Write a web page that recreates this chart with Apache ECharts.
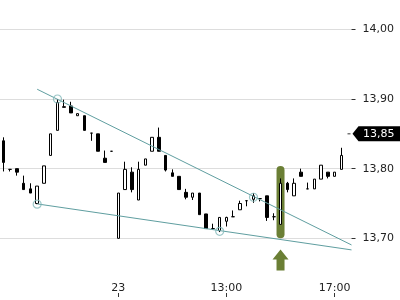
<!DOCTYPE html>
<html><head><meta charset="utf-8">
<script src="https://cdn.jsdelivr.net/npm/echarts@6/dist/echarts.min.js"></script>
<style>html,body{margin:0;padding:0;background:#fff}#c{width:400px;height:300px}</style>
</head><body><div id="c"></div>
<script>
const categories = [
 '22 13:15','22 13:30','22 13:45','22 14:00','22 14:15','22 14:30','22 14:45','22 15:00','22 15:15','22 15:30',
 '22 15:45','22 16:00','22 16:15','22 16:30','22 16:45','22 17:00','22 17:15',
 '23 09:00','23 09:15','23 09:30','23 09:45','23 10:00','23 10:15','23 10:30','23 10:45','23 11:00',
 '23 11:15','23 11:30','23 11:45','23 12:00','23 12:15','23 12:30','23 12:45','23 13:00','23 13:15',
 '23 13:30','23 13:45','23 14:00','23 14:15','23 14:30','23 14:45','23 15:00','23 15:15','23 15:30',
 '23 15:45','23 16:00','23 16:15','23 16:30','23 16:45','23 17:00','23 17:15','23 17:30'
];
const opens  = [13.840,13.799,13.800,13.779,13.771,13.750,13.779,13.819,13.855,13.888,
                13.890,13.876,13.876,13.851,13.850,13.815,13.825,
                13.700,13.770,13.795,13.755,13.805,13.825,13.845,13.819,13.794,
                13.789,13.766,13.759,13.765,13.735,13.714,13.711,13.7245,13.731,
                13.741,13.754,13.756,13.757,13.761,13.731,13.720,13.779,13.761,
                13.795,13.771,13.771,13.785,13.795,13.789,13.799];
const closes = [13.809,13.799,13.795,13.770,13.765,13.775,13.804,13.850,13.895,13.889,
                13.880,13.879,13.855,13.851,13.825,13.809,13.825,
                13.765,13.799,13.770,13.799,13.814,13.845,13.825,13.798,13.789,
                13.770,13.759,13.765,13.734,13.714,13.714,13.730,13.730,13.731,
                13.750,13.754,13.761,13.757,13.730,13.731,13.779,13.770,13.779,
                13.789,13.771,13.785,13.805,13.789,13.795,13.819];
const lows   = [13.796,13.796,13.790,13.770,13.765,13.749,13.779,13.819,13.855,13.888,
                13.880,13.876,13.855,13.840,13.825,13.809,13.825,
                13.700,13.770,13.766,13.755,13.805,13.825,13.825,13.796,13.789,
                13.770,13.756,13.755,13.734,13.714,13.714,13.709,13.717,13.731,
                13.741,13.746,13.751,13.753,13.725,13.726,13.720,13.766,13.761,
                13.789,13.771,13.771,13.785,13.786,13.789,13.799];
const highs  = [13.845,13.799,13.800,13.790,13.779,13.775,13.804,13.850,13.900,13.899,
                13.896,13.879,13.876,13.851,13.850,13.826,13.825,
                13.765,13.810,13.802,13.810,13.814,13.845,13.859,13.819,13.799,
                13.789,13.771,13.765,13.765,13.735,13.721,13.730,13.731,13.740,
                13.754,13.754,13.765,13.757,13.761,13.736,13.786,13.781,13.786,
                13.800,13.780,13.785,13.805,13.795,13.795,13.830];
const xTickIndex = [17, 33, 49];
const xTickLabels = ['23', '13:00', '17:00'];
const yMin = 13.6, yMax = 14.05, yStep = 0.1;
const upperTrend = [[5, 13.914], [51.5, 13.6905]];
const lowerTrend = [[5, 13.7494], [51.5, 13.6834]];
const trendAnchors = [[5, 13.749], [8, 13.900], [32, 13.710], [37, 13.759]];
const highlightBar = [[41, 13.804, 13.700]];
const signalArrow = [[41, 13.684]];
const lastPrice = 13.85;

const FONT = 'DejaVu Sans';
const TEAL = '#5f9ea0';
const OLIVE = '#6b7f35';
const GRID = '#dddddd';

const candleData = opens.map((o, i) => [o, closes[i], lows[i], highs[i]]);
const chart = echarts.init(document.getElementById('c'), null, {renderer: 'canvas'});
const tickSet = {};
xTickIndex.forEach((i, k) => tickSet[i] = xTickLabels[k]);

chart.setOption({
  animation: false,
  backgroundColor: '#fff',
  grid: {left: 0, right: 48.5, top: -5.5, bottom: -8, containLabel: false, outerBoundsMode: 'none'},
  xAxis: [{
    type: 'category', data: categories, boundaryGap: true, offset: -11,
    axisLine: {show: false, onZero: false},
    axisTick: {show: true, inside: true, length: 4, alignWithLabel: true,
      interval: (i) => tickSet[i] !== undefined, lineStyle: {color: '#333'}},
    axisLabel: {inside: true, margin: 3, fontFamily: FONT, fontSize: 11, color: '#222',
      interval: (i) => tickSet[i] !== undefined,
      formatter: (v, i) => tickSet[i] || ''},
    splitLine: {show: false}
  }, {
    type: 'value', min: -0.5, max: 51.5, show: false, axisLine: {onZero: false}
  }],
  yAxis: [{
    type: 'value', position: 'right', min: yMin, max: yMax, interval: yStep, scale: true,
    axisLine: {show: false, onZero: false},
    axisTick: {show: true, length: 4, lineStyle: {color: '#333'}},
    axisLabel: {margin: 11, fontFamily: FONT, fontSize: 11, color: '#222', showMaxLabel: false, showMinLabel: false,
      formatter: (v) => v.toFixed(2).replace('.', ',')},
    splitLine: {show: true, lineStyle: {color: GRID, width: 1}}
  }],
  series: [{
    type: 'custom', xAxisIndex: 0, yAxisIndex: 0, z: 1, silent: true,
    data: highlightBar,
    renderItem: (params, api) => {
      const p1 = api.coord([api.value(0), api.value(1)]);
      const p2 = api.coord([api.value(0), api.value(2)]);
      return {type: 'rect', shape: {x: p1[0] - 4, y: p1[1], width: 8, height: p2[1] - p1[1], r: 4},
        style: {fill: OLIVE}};
    }
  }, {
    type: 'candlestick', xAxisIndex: 0, yAxisIndex: 0, z: 2, barWidth: 3, silent: true,
    data: candleData,
    itemStyle: {color: '#fff', color0: '#000', borderColor: '#000', borderColor0: '#000',
      borderColorDoji: '#000', borderWidth: 1},
    markLine: {
      silent: true, z: 0, symbol: ['none', 'none'], label: {show: false},
      lineStyle: {color: GRID, type: 'solid', width: 1},
      emphasis: {disabled: true},
      data: xTickIndex.map(i => [{coord: [categories[i], 14.06]}, {coord: [categories[i], 13.642]}])
    }
  }, {
    type: 'line', xAxisIndex: 1, yAxisIndex: 0, z: 3, data: upperTrend, showSymbol: false, silent: true,
    lineStyle: {color: TEAL, width: 1}
  }, {
    type: 'line', xAxisIndex: 1, yAxisIndex: 0, z: 3, data: lowerTrend, showSymbol: false, silent: true,
    lineStyle: {color: TEAL, width: 1}
  }, {
    type: 'scatter', xAxisIndex: 1, yAxisIndex: 0, z: 4, data: trendAnchors, symbol: 'circle', symbolSize: 8,
    silent: true,
    itemStyle: {color: 'rgba(0,0,0,0)', borderColor: '#82b8b9', borderWidth: 1.2}
  }, {
    type: 'custom', xAxisIndex: 0, yAxisIndex: 0, z: 4, silent: true,
    data: signalArrow,
    renderItem: (params, api) => {
      const p = api.coord([api.value(0), api.value(1)]);
      const x = p[0], y = p[1];
      return {type: 'polygon', shape: {points: [[x, y], [x + 8, y + 10], [x + 4, y + 10], [x + 4, y + 21],
        [x - 4, y + 21], [x - 4, y + 10], [x - 8, y + 10]]}, style: {fill: OLIVE}};
    }
  }]
});

const py = chart.convertToPixel({yAxisIndex: 0}, lastPrice);
const px = chart.convertToPixel({xAxisIndex: 1}, 51.5);
chart.setOption({
  graphic: [{
    type: 'line', shape: {x1: px - 4, y1: py, x2: px - 1, y2: py}, style: {stroke: '#333', lineWidth: 1}
  }, {
    type: 'polygon', shape: {points: [[px + 1, py], [px + 7, py - 7.5], [400, py - 7.5], [400, py + 7.5], [px + 7, py + 7.5]]},
    style: {fill: '#000'}
  }, {
    type: 'text', x: px + 11.5, y: py, style: {text: lastPrice.toFixed(2).replace('.', ','), fill: '#fff',
      font: '11px "DejaVu Sans"', verticalAlign: 'middle', align: 'left'}
  }]
});
</script></body></html>
